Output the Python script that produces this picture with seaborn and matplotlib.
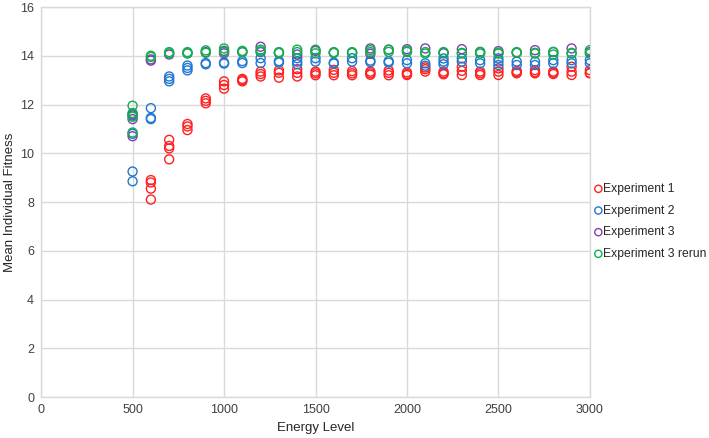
import matplotlib
matplotlib.use("Agg")
import matplotlib.pyplot as plt
import seaborn as sns
import pandas as pd

energy_levels = [500, 600, 700, 800, 900, 1000, 1100, 1200, 1300, 1400, 1500, 1600, 1700,
                 1800, 1900, 2000, 2100, 2200, 2300, 2400, 2500, 2600, 2700, 2800, 2900, 3000]

exp1 = [[], [8.9, 8.8, 8.55, 8.1], [10.55, 10.3, 10.2, 9.75], [11.2, 11.1, 10.95],
        [12.25, 12.15, 12.05], [12.95, 12.8, 12.65], [13.05, 13.0, 12.95], [13.35, 13.25, 13.15],
        [13.4, 13.3, 13.1], [13.45, 13.3, 13.15], [13.35, 13.28, 13.2], [13.42, 13.3, 13.2],
        [13.37, 13.28, 13.2], [13.35, 13.28, 13.22], [13.4, 13.3, 13.2], [13.32, 13.25, 13.21],
        [13.52, 13.45, 13.35], [13.35, 13.28, 13.24], [13.55, 13.38, 13.21], [13.35, 13.28, 13.21],
        [13.48, 13.35, 13.21], [13.38, 13.32, 13.28], [13.41, 13.33, 13.28], [13.35, 13.3, 13.25],
        [13.55, 13.35, 13.21], [13.41, 13.3, 13.28]]

exp2 = [[11.6, 10.8, 9.25, 8.85], [11.85, 11.45, 11.4], [13.15, 13.05, 12.95], [13.6, 13.5, 13.4],
        [13.7, 13.65], [13.72, 13.68], [13.78, 13.7], [13.9, 13.7], [13.78, 13.72],
        [13.9, 13.76, 13.65], [13.9, 13.76], [13.72, 13.68], [13.9, 13.76], [13.8, 13.74],
        [13.78, 13.72], [13.82, 13.69], [13.69, 13.59], [13.89, 13.76, 13.65], [13.89, 13.76],
        [13.82, 13.69], [13.89, 13.76, 13.62], [13.76, 13.62], [13.76, 13.62], [13.82, 13.69],
        [13.82, 13.69], [13.82, 13.69]]

exp3 = [[11.55, 11.4, 10.7], [13.85, 13.8], [14.05], [14.1], [14.15], [14.1, 14.2], [14.15],
        [14.37, 14.15], [14.12], [14.05], [14.2], [14.12], [14.12], [14.3, 14.08], [14.25],
        [14.27], [14.3], [14.1], [14.27], [14.15], [14.19], [14.12], [14.23], [14.15], [14.3],
        [14.15]]

exp3_rerun = [[11.95, 11.65, 11.5, 10.85], [14.0, 13.95], [14.15, 14.1], [14.15, 14.1],
              [14.22, 14.12], [14.3, 14.16], [14.2, 14.15], [14.25, 14.18], [14.15, 14.12],
              [14.25, 14.15], [14.25, 14.1], [14.15, 14.12], [14.15, 14.12], [14.23, 14.15],
              [14.25, 14.16], [14.2, 14.16], [14.15, 14.09], [14.15, 14.13], [14.12, 14.09],
              [14.16, 14.09], [14.12, 14.09], [14.15, 14.13], [14.12, 14.09], [14.16, 14.05],
              [14.12, 14.09], [14.23, 14.09]]

series_names = ["Experiment 1", "Experiment 2", "Experiment 3", "Experiment 3 rerun"]
series_values = [exp1, exp2, exp3, exp3_rerun]
colors = ["#FF2020", "#1F78D1", "#7F40B0", "#10B050"]

x_ticks = [0, 500, 1000, 1500, 2000, 2500, 3000]
y_ticks = [0, 2, 4, 6, 8, 10, 12, 14, 16]

rows = []
for name, vals in zip(series_names, series_values):
    for e, reps in zip(energy_levels, vals):
        for v in reps:
            rows.append({"Experiment": name, "Energy Level": e, "Fitness": v})
df = pd.DataFrame(rows)

sns.set_theme(style="white")
plt.rcParams["font.family"] = ["Liberation Sans", "DejaVu Sans"]

fig = plt.figure(figsize=(7.09, 4.38), dpi=100)
ax = fig.add_axes([0.058, 0.0936, 0.774, 0.8904])

for name, col in zip(series_names, colors):
    sub = df[df["Experiment"] == name]
    sns.scatterplot(data=sub, x="Energy Level", y="Fitness", ax=ax, color=col,
                    s=42, linewidth=1.0, label=name, zorder=3)
    coll = ax.collections[-1]
    coll.set_facecolors("none")
    coll.set_edgecolors(col)

ax.set_xlim(0, 3000)
ax.set_ylim(0, 16)
ax.set_xticks(x_ticks)
ax.set_yticks(y_ticks)
ax.grid(True, color="#d9d9d9", linewidth=1.0, zorder=0)
ax.set_axisbelow(True)
for sp in ax.spines.values():
    sp.set_color("#d9d9d9")
    sp.set_linewidth(1.0)
ax.tick_params(axis="both", length=0, labelsize=9, colors="#404040", pad=5)
ax.set_xlabel("Energy Level", fontsize=9.5, color="#262626", labelpad=4)
ax.set_ylabel("Mean Individual Fitness", fontsize=9.5, color="#262626", labelpad=3)

leg = ax.legend(loc="center left", bbox_to_anchor=(1.0, 0.45), frameon=False,
                fontsize=8.7, handletextpad=0.0, handlelength=0.8, labelspacing=0.8,
                markerscale=0.8, borderaxespad=0.1, borderpad=0.2)
for t in leg.get_texts():
    t.set_color("#262626")

fig.savefig("out.png", dpi=100)
